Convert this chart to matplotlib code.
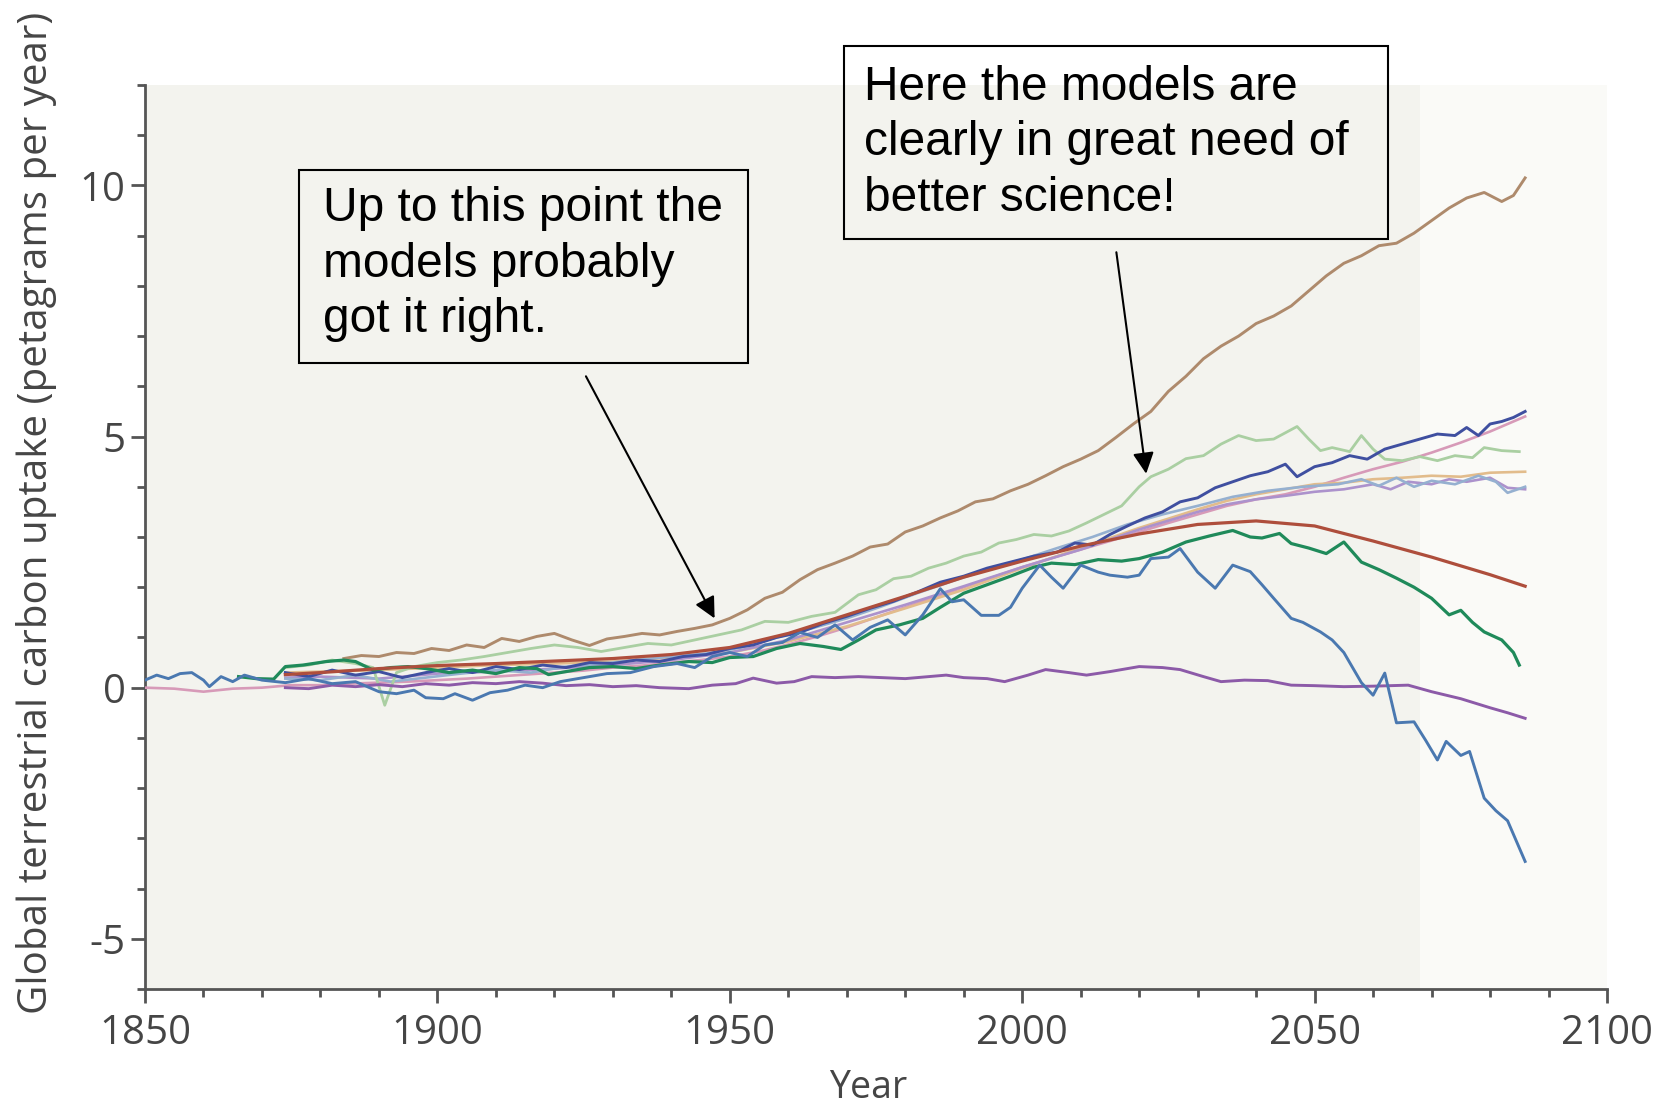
import matplotlib
matplotlib.use("Agg")
import matplotlib.pyplot as plt
from matplotlib.patches import Rectangle
from matplotlib.ticker import MultipleLocator

plt.rcParams["axes.unicode_minus"] = False

# ---------------- data ----------------
brown_years = [1884, 1887, 1890, 1893, 1896, 1899, 1902, 1905, 1908, 1911, 1914, 1917, 1920, 1923, 1926, 1929,
               1932, 1935, 1938, 1941, 1944, 1947, 1950, 1953, 1956, 1959, 1962, 1965, 1968, 1971, 1974, 1977,
               1980, 1983, 1986, 1989, 1992, 1995, 1998, 2001, 2004, 2007, 2010, 2013, 2016, 2019, 2022, 2025,
               2028, 2031, 2034, 2037, 2040, 2043, 2046, 2049, 2052, 2055, 2058, 2061, 2064, 2067, 2070, 2073,
               2076, 2079, 2082, 2084, 2086]
brown_vals = [0.58, 0.64, 0.62, 0.70, 0.68, 0.78, 0.74, 0.85, 0.80, 0.98, 0.92, 1.02, 1.08, 0.95, 0.84, 0.97,
              1.02, 1.08, 1.05, 1.12, 1.18, 1.25, 1.38, 1.55, 1.78, 1.90, 2.15, 2.35, 2.48, 2.62, 2.80, 2.86,
              3.10, 3.22, 3.38, 3.52, 3.70, 3.76, 3.92, 4.05, 4.22, 4.40, 4.55, 4.72, 4.98, 5.25, 5.50, 5.90,
              6.20, 6.55, 6.80, 7.00, 7.25, 7.40, 7.60, 7.90, 8.20, 8.45, 8.60, 8.80, 8.85, 9.05, 9.30, 9.55,
              9.75, 9.86, 9.68, 9.80, 10.15]

darkblue_years = [1874, 1878, 1882, 1886, 1890, 1894, 1898, 1902, 1906, 1910, 1914, 1918, 1922, 1926, 1930, 1934,
                  1938, 1942, 1946, 1950, 1954, 1958, 1962, 1966, 1970, 1974, 1978, 1982, 1986, 1990, 1994, 1998,
                  2002, 2006, 2009, 2012, 2015, 2018, 2021, 2024, 2027, 2030, 2033, 2036, 2039, 2042, 2045, 2047,
                  2050, 2053, 2056, 2059, 2062, 2065, 2068, 2071, 2074, 2076, 2078, 2080, 2082, 2084, 2086]
darkblue_vals = [0.30, 0.22, 0.35, 0.25, 0.32, 0.20, 0.30, 0.38, 0.30, 0.42, 0.36, 0.45, 0.40, 0.50, 0.48, 0.55,
                 0.52, 0.62, 0.66, 0.78, 0.85, 1.00, 1.10, 1.28, 1.42, 1.58, 1.72, 1.90, 2.10, 2.22, 2.38, 2.50,
                 2.62, 2.70, 2.88, 2.84, 3.05, 3.22, 3.38, 3.50, 3.70, 3.78, 3.98, 4.10, 4.22, 4.30, 4.45, 4.20,
                 4.40, 4.48, 4.62, 4.55, 4.75, 4.85, 4.95, 5.05, 5.02, 5.18, 5.02, 5.25, 5.30, 5.38, 5.50]

pink_years = [1850, 1855, 1860, 1865, 1870, 1875, 1880, 1885, 1890, 1895, 1900, 1905, 1910, 1915, 1920, 1925,
              1930, 1935, 1940, 1945, 1950, 1955, 1960, 1965, 1970, 1975, 1980, 1985, 1990, 1995, 2000, 2005,
              2010, 2015, 2020, 2025, 2030, 2035, 2040, 2045, 2050, 2055, 2060, 2065, 2070, 2075, 2080, 2086]
pink_vals = [0.00, -0.02, -0.08, -0.02, 0.00, 0.05, 0.05, 0.08, 0.10, 0.12, 0.15, 0.18, 0.22, 0.26, 0.30, 0.34,
             0.40, 0.44, 0.50, 0.55, 0.62, 0.72, 0.86, 1.02, 1.20, 1.40, 1.60, 1.80, 2.00, 2.20, 2.40, 2.58,
             2.75, 2.92, 3.10, 3.28, 3.45, 3.62, 3.75, 3.85, 4.00, 4.18, 4.35, 4.50, 4.68, 4.88, 5.10, 5.40]

lightgreen_years = [1874, 1878, 1882, 1886, 1889, 1891, 1893, 1896, 1900, 1904, 1908, 1912, 1916, 1920, 1924, 1928,
                    1932, 1936, 1940, 1944, 1948, 1952, 1956, 1960, 1964, 1968, 1972, 1975, 1978, 1981, 1984, 1987,
                    1990, 1993, 1996, 1999, 2002, 2005, 2008, 2011, 2014, 2017, 2020, 2022, 2025, 2028, 2031, 2034,
                    2037, 2040, 2043, 2047, 2049, 2051, 2053, 2056, 2058, 2060, 2062, 2065, 2068, 2071, 2074, 2077,
                    2079, 2082, 2085]
lightgreen_vals = [0.40, 0.45, 0.55, 0.48, 0.40, -0.35, 0.30, 0.42, 0.50, 0.55, 0.62, 0.70, 0.78, 0.85, 0.80, 0.72,
                   0.80, 0.88, 0.85, 0.95, 1.05, 1.15, 1.32, 1.30, 1.42, 1.50, 1.85, 1.95, 2.17, 2.22, 2.38, 2.48,
                   2.62, 2.70, 2.88, 2.95, 3.05, 3.02, 3.12, 3.28, 3.45, 3.62, 4.00, 4.20, 4.35, 4.56, 4.62, 4.85,
                   5.02, 4.92, 4.95, 5.20, 4.95, 4.72, 4.78, 4.70, 5.02, 4.75, 4.55, 4.52, 4.60, 4.52, 4.62, 4.58,
                   4.78, 4.72, 4.70]

tan_years = [1874, 1880, 1890, 1900, 1910, 1920, 1930, 1940, 1950, 1960, 1970, 1980, 1990, 2000, 2010, 2020,
             2030, 2035, 2040, 2045, 2050, 2055, 2060, 2065, 2070, 2075, 2080, 2086]
tan_vals = [0.30, 0.32, 0.35, 0.40, 0.45, 0.48, 0.52, 0.60, 0.70, 0.92, 1.22, 1.58, 1.95, 2.38, 2.78, 3.18,
            3.55, 3.72, 3.85, 3.95, 4.05, 4.08, 4.15, 4.18, 4.22, 4.20, 4.28, 4.30]

lightpurple_years = [1874, 1880, 1890, 1900, 1910, 1920, 1930, 1940, 1950, 1960, 1970, 1980, 1990, 2000, 2010, 2020,
                     2030, 2035, 2040, 2045, 2050, 2055, 2060, 2063, 2066, 2070, 2073, 2076, 2080, 2083, 2086]
lightpurple_vals = [0.20, 0.22, 0.18, 0.28, 0.32, 0.38, 0.45, 0.55, 0.70, 0.95, 1.30, 1.65, 2.02, 2.40, 2.75, 3.15,
                    3.50, 3.65, 3.75, 3.82, 3.90, 3.95, 4.05, 3.95, 4.10, 4.05, 4.15, 4.10, 4.18, 3.98, 3.95]

bluegray_years = [1874, 1880, 1886, 1892, 1898, 1904, 1910, 1916, 1922, 1928, 1934, 1940, 1946, 1952, 1958, 1964,
                  1970, 1976, 1982, 1988, 1994, 2000, 2006, 2012, 2018, 2024, 2030, 2036, 2042, 2048, 2054, 2058,
                  2061, 2064, 2067, 2070, 2074, 2078, 2081, 2083, 2086]
bluegray_vals = [0.18, 0.15, 0.25, 0.12, 0.20, 0.28, 0.35, 0.30, 0.42, 0.48, 0.55, 0.62, 0.68, 0.80, 1.00, 1.18,
                 1.38, 1.62, 1.88, 2.12, 2.35, 2.55, 2.78, 3.00, 3.25, 3.45, 3.62, 3.80, 3.92, 4.00, 4.05, 4.15,
                 4.02, 4.18, 4.00, 4.12, 4.05, 4.22, 4.10, 3.88, 4.00]

red_years = [1874, 1880, 1890, 1900, 1910, 1920, 1930, 1940, 1950, 1960, 1970, 1980, 1990, 2000, 2010, 2020,
             2030, 2040, 2050, 2060, 2070, 2080, 2086]
red_vals = [0.26, 0.30, 0.38, 0.44, 0.48, 0.53, 0.58, 0.66, 0.80, 1.08, 1.45, 1.82, 2.20, 2.52, 2.82, 3.06,
            3.25, 3.32, 3.22, 2.92, 2.60, 2.25, 2.02]

darkgreen_years = [1866, 1869, 1872, 1874, 1877, 1881, 1884, 1886, 1889, 1892, 1895, 1898, 1902, 1906, 1910, 1914,
                   1917, 1919, 1922, 1926, 1930, 1934, 1938, 1943, 1947, 1950, 1954, 1958, 1962, 1966, 1969, 1972,
                   1975, 1979, 1983, 1986, 1990, 1994, 1998, 2002, 2005, 2009, 2013, 2017, 2020, 2024, 2028, 2032,
                   2036, 2039, 2041, 2044, 2046, 2049, 2052, 2055, 2058, 2061, 2064, 2067, 2070, 2073, 2075, 2077,
                   2079, 2082, 2084, 2085]
darkgreen_vals = [0.22, 0.18, 0.17, 0.42, 0.45, 0.52, 0.55, 0.52, 0.35, 0.40, 0.42, 0.38, 0.30, 0.35, 0.28, 0.40,
                  0.38, 0.26, 0.32, 0.40, 0.42, 0.38, 0.45, 0.52, 0.50, 0.60, 0.62, 0.78, 0.88, 0.82, 0.76, 0.95,
                  1.15, 1.25, 1.38, 1.60, 1.88, 2.05, 2.22, 2.40, 2.48, 2.45, 2.55, 2.52, 2.57, 2.70, 2.90, 3.02,
                  3.13, 3.00, 2.98, 3.07, 2.87, 2.78, 2.67, 2.90, 2.50, 2.35, 2.18, 2.00, 1.78, 1.45, 1.54, 1.30,
                  1.11, 0.95, 0.70, 0.45]

steel_years = [1850, 1852, 1854, 1856, 1858, 1860, 1861, 1863, 1865, 1867, 1870, 1874, 1878, 1882, 1886, 1890,
               1893, 1896, 1898, 1901, 1903, 1906, 1909, 1912, 1915, 1918, 1921, 1925, 1929, 1933, 1937, 1941,
               1944, 1947, 1950, 1953, 1956, 1959, 1962, 1965, 1968, 1971, 1974, 1977, 1980, 1983, 1986, 1988,
               1990, 1993, 1996, 1998, 2000, 2003, 2005, 2007, 2010, 2013, 2015, 2018, 2020, 2022, 2025, 2027,
               2030, 2033, 2036, 2039, 2041, 2043, 2046, 2048, 2051, 2053, 2055, 2058, 2060, 2062, 2064, 2067,
               2069, 2071, 2072.5, 2075, 2076.5, 2079, 2081, 2083, 2086]
steel_vals = [0.15, 0.25, 0.18, 0.28, 0.30, 0.15, 0.02, 0.22, 0.12, 0.25, 0.15, 0.10, 0.18, 0.08, 0.12, -0.08,
              -0.12, -0.05, -0.20, -0.22, -0.12, -0.25, -0.10, -0.05, 0.05, 0.00, 0.12, 0.20, 0.28, 0.30, 0.42, 0.48,
              0.40, 0.62, 0.70, 0.62, 0.85, 0.90, 1.10, 1.00, 1.25, 0.95, 1.20, 1.35, 1.05, 1.45, 1.97, 1.71,
              1.75, 1.44, 1.44, 1.60, 1.98, 2.44, 2.20, 1.98, 2.44, 2.30, 2.24, 2.20, 2.24, 2.57, 2.60, 2.77,
              2.30, 1.98, 2.44, 2.31, 2.05, 1.78, 1.38, 1.30, 1.11, 0.95, 0.70, 0.10, -0.15, 0.29, -0.70, -0.68,
              -1.05, -1.44, -1.07, -1.35, -1.27, -2.20, -2.45, -2.65, -3.46]

purple_years = [1874, 1878, 1882, 1886, 1890, 1894, 1898, 1902, 1906, 1910, 1914, 1918, 1922, 1926, 1930, 1934,
                1938, 1943, 1947, 1951, 1954, 1958, 1961, 1964, 1968, 1972, 1976, 1980, 1984, 1987, 1990, 1994,
                1997, 2001, 2004, 2008, 2011, 2015, 2020, 2024, 2027, 2031, 2034, 2038, 2042, 2046, 2050, 2055,
                2060, 2066, 2070, 2075, 2080, 2083, 2086]
purple_vals = [0.00, -0.02, 0.05, 0.02, 0.06, 0.02, 0.08, 0.05, 0.10, 0.08, 0.12, 0.09, 0.04, 0.06, 0.02, 0.04,
               0.00, -0.02, 0.05, 0.08, 0.19, 0.09, 0.12, 0.22, 0.20, 0.22, 0.20, 0.18, 0.22, 0.25, 0.20, 0.18,
               0.12, 0.25, 0.36, 0.30, 0.25, 0.32, 0.42, 0.40, 0.36, 0.22, 0.12, 0.15, 0.14, 0.05, 0.04, 0.02,
               0.03, 0.05, -0.08, -0.22, -0.40, -0.50, -0.61]

x_major_ticks = [1850, 1900, 1950, 2000, 2050, 2100]
y_major_ticks = [-5, 0, 5, 10]

note_left = "Up to this point the\nmodels probably\ngot it right."
note_right = "Here the models are\nclearly in great need of\nbetter science!"

# ---------------- figure ----------------
W, H = 1675, 1107
fig = plt.figure(figsize=(W / 100, H / 100), dpi=100)
fig.patch.set_facecolor("white")
ax = fig.add_axes([145 / W, 1 - 989 / H, (1607 - 145) / W, (989 - 85) / H])
ax.set_facecolor("#F3F3EE")
ax.axvspan(2068, 2100, color="#FAFAF7", zorder=0, lw=0)

series = [
    (pink_years, pink_vals, "#D79AB8", 1.9),
    (tan_years, tan_vals, "#E2BC8C", 1.9),
    (lightpurple_years, lightpurple_vals, "#AC92CC", 1.9),
    (bluegray_years, bluegray_vals, "#95B0D0", 1.9),
    (lightgreen_years, lightgreen_vals, "#AACFA2", 2.0),
    (brown_years, brown_vals, "#AE8A6C", 2.1),
    (purple_years, purple_vals, "#8C5AA8", 2.1),
    (darkblue_years, darkblue_vals, "#3F4FA0", 2.1),
    (darkgreen_years, darkgreen_vals, "#1F8A5A", 2.3),
    (steel_years, steel_vals, "#4A78B0", 2.1),
    (red_years, red_vals, "#AE4E3C", 2.3),
]
for xs, ys, col, lw in series:
    ax.plot(xs, ys, color=col, lw=lw, solid_joinstyle="round", zorder=3)

ax.set_xlim(1850, 2100)
ax.set_ylim(-6, 12)
ax.set_xticks(x_major_ticks)
ax.set_yticks(y_major_ticks)
ax.xaxis.set_minor_locator(MultipleLocator(10))
ax.yaxis.set_minor_locator(MultipleLocator(1))

for s in ["top", "right"]:
    ax.spines[s].set_visible(False)
for s in ["left", "bottom"]:
    ax.spines[s].set_color("#555555")
    ax.spines[s].set_linewidth(2)

label_family = ["Open Sans", "DejaVu Sans"]
ax.tick_params(which="major", direction="out", length=10, width=2, color="#555555")
ax.tick_params(which="minor", direction="out", length=6, width=2, color="#555555")
ax.tick_params(axis="x", which="major", pad=8)
ax.tick_params(axis="y", which="major", pad=4)
for lab in ax.get_xticklabels() + ax.get_yticklabels():
    lab.set_fontfamily(label_family)
    lab.set_fontsize(29)
    lab.set_color("#454545")

fig.text(37 / W, 1 - 513 / H, "Global terrestrial carbon uptake (petagrams per year)",
         rotation=90, ha="center", va="center", family=label_family, size=29, color="#454545")
fig.text(868 / W, 1 - 1088 / H, "Year", ha="center", va="center",
         family=label_family, size=27, color="#454545")

# ---------------- annotation boxes and arrows ----------------
ax.add_patch(Rectangle((1876.3, 6.46), 1953.1 - 1876.3, 10.30 - 6.46, fill=False,
                       edgecolor="black", lw=1.5, clip_on=False, zorder=5))
ax.add_patch(Rectangle((1969.5, 8.93), 2062.5 - 1969.5, 12.78 - 8.93, fill=False,
                       edgecolor="black", lw=1.5, clip_on=False, zorder=5))

note_font = dict(family=["Liberation Sans", "DejaVu Sans"], size=34.5, color="black")
ax.text(1880.4, 9.98, note_left, ha="left", va="top", linespacing=1.30,
        clip_on=False, zorder=6, **note_font)
ax.text(1972.9, 12.40, note_right, ha="left", va="top", linespacing=1.30,
        clip_on=False, zorder=6, **note_font)

arrow_kw = dict(arrowstyle="-|>", color="black", lw=1.5, mutation_scale=32,
                shrinkA=0, shrinkB=0)
ax.annotate("", xy=(1947.4, 1.38), xytext=(1925.4, 6.2), arrowprops=arrow_kw,
            annotation_clip=False, zorder=6)
ax.annotate("", xy=(2021.2, 4.26), xytext=(2016.1, 8.67), arrowprops=arrow_kw,
            annotation_clip=False, zorder=6)

fig.savefig("out.png", dpi=100)
